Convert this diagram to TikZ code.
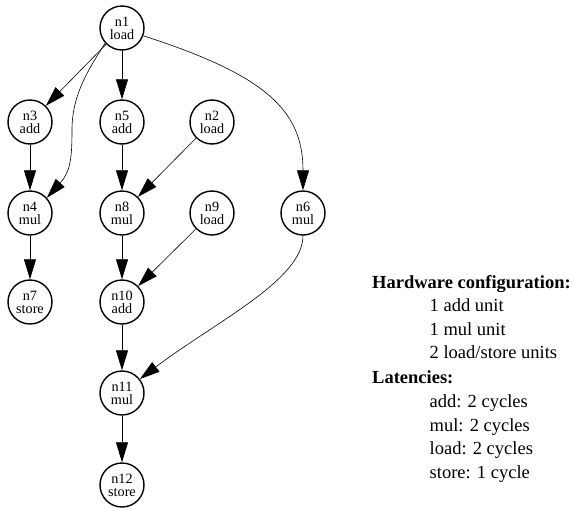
\documentclass[tikz,border=0pt]{standalone}
\usepackage{fontspec}
\setmainfont{Liberation Serif}
\usetikzlibrary{arrows.meta}
\begin{document}
\begin{tikzpicture}[x=1pt,y=1pt,
  op/.style={circle, draw, line width=1.4pt, minimum size=44pt, inner sep=0pt,
    align=center, font=\fontsize{14.2}{13}\selectfont},
  dep/.style={line width=0.6pt, -{Triangle[length=20pt,width=12pt]}},
  info/.style={anchor=base west, inner sep=0pt, font=\fontsize{18.5}{22}\selectfont},
  head/.style={anchor=base west, inner sep=0pt, font=\fontsize{18.5}{22}\selectfont\bfseries}]
\useasboundingbox (0,0) rectangle (573,-509);

% operation nodes
\node[op] (n1)  at (122,-28)  {n1\\load};
\node[op] (n3)  at (30,-122)  {n3\\add};
\node[op] (n5)  at (122,-122) {n5\\add};
\node[op] (n2)  at (212,-122) {n2\\load};
\node[op] (n4)  at (30,-213)  {n4\\mul};
\node[op] (n8)  at (122,-213) {n8\\mul};
\node[op] (n9)  at (212,-213) {n9\\load};
\node[op] (n6)  at (303,-213) {n6\\mul};
\node[op] (n7)  at (30,-302)  {n7\\store};
\node[op] (n10) at (122,-302) {n10\\add};
\node[op] (n11) at (122,-393) {n11\\mul};
\node[op] (n12) at (122,-485) {n12\\store};

% dependences
\draw[dep] (n1) -- (n3);
\draw[dep] (n1) -- (n5);
\draw[dep] (n1.222) .. controls (88,-70) and (72,-95) .. (72,-130)
                    .. controls (72,-160) and (70,-172) .. (n4.42);
\draw[dep] (n1.-20) .. controls (265,-75) and (303,-110) .. (n6.north);
\draw[dep] (n3) -- (n4);
\draw[dep] (n5) -- (n8);
\draw[dep] (n2) -- (n8);
\draw[dep] (n4) -- (n7);
\draw[dep] (n8) -- (n10);
\draw[dep] (n9) -- (n10);
\draw[dep] (n6.south) .. controls (303,-280) and (215,-322) .. (n11.38);
\draw[dep] (n10) -- (n11);
\draw[dep] (n11) -- (n12);

% machine description
\node[head] (hw)  at (372,-288)     {Hardware configuration:};
\node[info] (hw1) at (429.5,-311.5) {1 add unit};
\node[info] (hw2) at (429.5,-335)   {1 mul unit};
\node[info] (hw3) at (429.5,-358.5) {2 load/store units};
\node[head] (lat) at (372,-383)     {Latencies:};
\node[info] (la1) at (429.5,-407.5) {add: 2 cycles};
\node[info] (la2) at (429.5,-431)   {mul: 2 cycles};
\node[info] (la3) at (429.5,-454.5) {load: 2 cycles};
\node[info] (la4) at (429.5,-478)   {store: 1 cycle};
\end{tikzpicture}
\end{document}
